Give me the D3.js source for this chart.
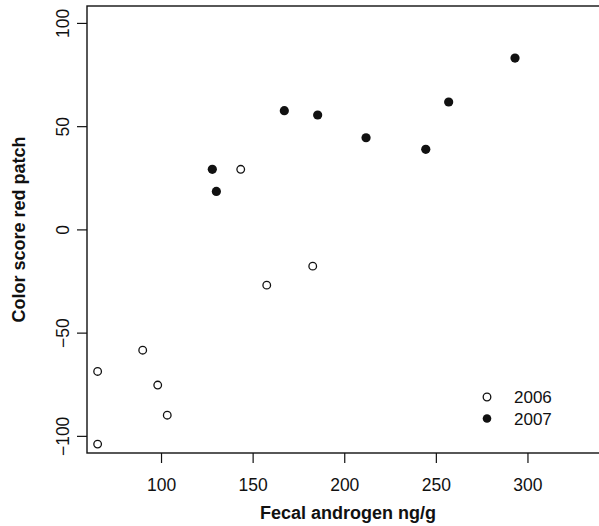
<!DOCTYPE html>
<html>
<head>
<meta charset="utf-8">
<script src="https://cdn.jsdelivr.net/npm/d3@7"></script>
<style>
  body { margin: 0; background: #fff; }
  svg text { font-family: "Liberation Sans", Arial, sans-serif; fill: #111; }
</style>
</head>
<body>
<div id="chart"></div>
<script>
// data
var androgen2006 = [65.4, 65.4, 90.0, 98.2, 103.4, 143.5, 157.7, 182.8];
var color2006    = [-68.8, -104.0, -58.5, -75.4, -90.0, 29.1, -27.0, -17.8];
var androgen2007 = [128.0, 130.2, 167.3, 185.5, 211.9, 244.5, 257.0, 293.2];
var color2007    = [29.1, 18.4, 57.5, 55.4, 44.4, 38.8, 61.7, 83.0];
var xTicks = [100, 150, 200, 250, 300];
var yTicks = [-100, -50, 0, 50, 100];
var legendLabels = ["2006", "2007"];

var W = 599, H = 526;
var plot = {left: 87, top: 6, right: 609, bottom: 453};

var x = d3.scaleLinear().domain([59.6, 344.5]).range([plot.left, plot.right]);
var y = d3.scaleLinear().domain([-108.3, 108.2]).range([plot.bottom, plot.top]);

var svg = d3.select("#chart").append("svg")
    .attr("width", W)
    .attr("height", H);

// box
svg.append("rect")
    .attr("x", plot.left).attr("y", plot.top)
    .attr("width", plot.right - plot.left)
    .attr("height", plot.bottom - plot.top)
    .attr("fill", "none")
    .attr("stroke", "#111")
    .attr("stroke-width", 1.4);

// x axis
var gx = svg.append("g")
    .attr("transform", "translate(0," + plot.bottom + ")")
    .call(d3.axisBottom(x).tickValues(xTicks).tickSize(10).tickSizeOuter(0));
gx.select(".domain").remove();
gx.selectAll("line").attr("stroke", "#111").attr("stroke-width", 1.2);
gx.selectAll("text")
    .attr("y", 37.7).attr("dy", 0)
    .style("font-size", "17.5px");

// y axis, labels turned like in R
var gy = svg.append("g")
    .attr("transform", "translate(" + plot.left + ",0)")
    .call(d3.axisLeft(y).tickValues(yTicks).tickSize(10).tickSizeOuter(0));
gy.select(".domain").remove();
gy.selectAll("line").attr("stroke", "#111").attr("stroke-width", 1.2);
gy.selectAll("text")
    .attr("x", 0).attr("y", 0).attr("dy", 0)
    .attr("text-anchor", "middle")
    .attr("transform", "translate(-17.7,0) rotate(-90)")
    .style("font-size", "17.5px");

// titles
svg.append("text")
    .attr("x", (plot.left + plot.right) / 2)
    .attr("y", 519)
    .attr("text-anchor", "middle")
    .style("font-size", "18px")
    .style("font-weight", "bold")
    .text("Fecal androgen ng/g");

svg.append("text")
    .attr("transform", "translate(24.6," + (plot.top + plot.bottom) / 2 + ") rotate(-90)")
    .attr("text-anchor", "middle")
    .style("font-size", "18px")
    .style("font-weight", "bold")
    .text("Color score red patch");

// points
svg.append("g").selectAll("circle")
    .data(d3.zip(androgen2006, color2006))
    .enter().append("circle")
    .attr("cx", d => x(d[0]))
    .attr("cy", d => y(d[1]))
    .attr("r", 3.8)
    .attr("fill", "#fff")
    .attr("stroke", "#111")
    .attr("stroke-width", 1.3);

svg.append("g").selectAll("circle")
    .data(d3.zip(androgen2007, color2007))
    .enter().append("circle")
    .attr("cx", d => x(d[0]))
    .attr("cy", d => y(d[1]))
    .attr("r", 4.6)
    .attr("fill", "#111");

// legend
var leg = svg.append("g").selectAll("g")
    .data(legendLabels)
    .enter().append("g")
    .attr("transform", (d, i) => "translate(487," + (397 + i * 21.5) + ")");
leg.append("circle")
    .attr("r", (d, i) => i === 0 ? 3.8 : 4.3)
    .attr("fill", (d, i) => i === 0 ? "#fff" : "#111")
    .attr("stroke", "#111")
    .attr("stroke-width", (d, i) => i === 0 ? 1.3 : 0);
leg.append("text")
    .attr("x", 27)
    .attr("y", 6.3)
    .style("font-size", "17px")
    .text(d => d);
</script>
</body>
</html>
